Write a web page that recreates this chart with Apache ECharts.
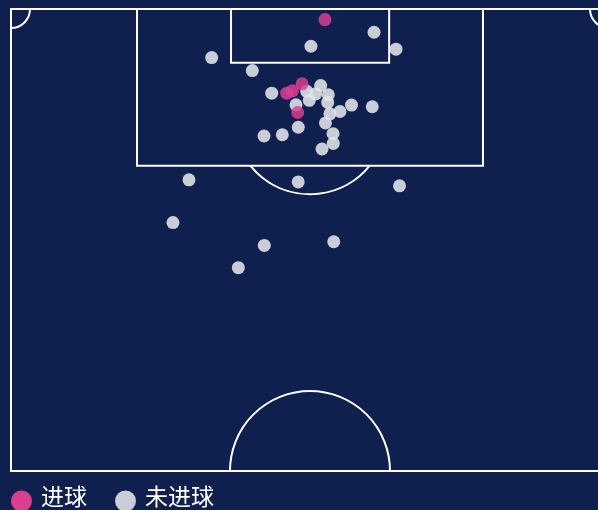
<!DOCTYPE html>
<html style="height: 100%">
<head>
    <meta charset="utf-8">
    <script src="https://cdn.jsdelivr.net/npm/echarts@6/dist/echarts.min.js"></script>
</head>
<body style="height: 100%; margin: 0; background: #0f204e">
    <div id="main" style="width:598px;height:510px;"></div>
    <script type="text/javascript">
        // 球场半场坐标（米）：x 0-68 横向，y 0-52.5 距离球门线
        var goalShots = [
            [35.7, 1.2], [33.1, 8.5], [32.0, 9.3], [31.35, 9.56], [32.6, 11.76]
        ];
        var missShots = [
            [41.28, 2.64], [34.11, 4.23], [43.78, 4.57], [22.82, 5.52], [27.44, 7.0],
            [29.65, 9.56], [33.63, 9.35], [34.65, 9.64], [33.92, 10.38], [35.22, 8.7],
            [36.08, 9.75], [36.01, 10.62], [32.41, 10.89], [37.41, 11.65], [38.72, 10.92],
            [41.08, 11.11], [36.27, 11.91], [35.76, 12.95], [32.67, 13.44], [30.85, 14.29],
            [28.77, 14.43], [36.62, 14.17], [36.65, 15.27], [35.37, 15.91], [20.24, 19.41],
            [32.66, 19.65], [44.18, 20.09], [18.42, 24.27], [28.8, 26.87], [36.7, 26.45],
            [25.85, 29.4]
        ];
        var legendNames = ['进球', '未进球'];

        // 球场尺寸
        var pitchW = 68, pitchL = 52.5;
        var boxX = [14.33, 53.67], boxDepth = 17.8;
        var sixX = [25.02, 43.0], sixDepth = 6.12;
        var spot = [34, 12.36], arcR = 8.7;
        var centerR = 9.1, cornerR = 2.16;

        var lineStyle = { stroke: '#ffffff', lineWidth: 2, fill: null };

        function pitchItem(params, api) {
            var c = function (x, y) { return api.coord([x, y]); };
            var rx = function (r) { return api.size([r, 0])[0]; };
            var els = [];
            function rect(x0, y0, x1, y1) {
                var a = c(x0, y0), b = c(x1, y1);
                els.push({ type: 'rect', shape: { x: a[0], y: a[1], width: b[0] - a[0], height: b[1] - a[1] }, style: lineStyle });
            }
            rect(0, 0, pitchW, pitchL);
            rect(boxX[0], 0, boxX[1], boxDepth);
            rect(sixX[0], 0, sixX[1], sixDepth);
            // 罚球弧
            var sp = c(spot[0], spot[1]);
            var r = rx(arcR);
            var d = c(0, boxDepth)[1] - sp[1];
            var t = Math.asin(Math.min(1, d / r));
            els.push({ type: 'arc', shape: { cx: sp[0], cy: sp[1], r: r, startAngle: t, endAngle: Math.PI - t, clockwise: true }, style: lineStyle });
            // 中圈
            var cc = c(pitchW / 2, pitchL);
            els.push({ type: 'arc', shape: { cx: cc[0], cy: cc[1], r: rx(centerR), startAngle: Math.PI, endAngle: Math.PI * 2, clockwise: true }, style: lineStyle });
            // 角球弧
            var c0 = c(0, 0), c1 = c(pitchW, 0);
            els.push({ type: 'arc', shape: { cx: c0[0], cy: c0[1], r: rx(cornerR), startAngle: 0, endAngle: Math.PI / 2, clockwise: true }, style: lineStyle });
            els.push({ type: 'arc', shape: { cx: c1[0], cy: c1[1], r: rx(cornerR), startAngle: Math.PI / 2, endAngle: Math.PI, clockwise: true }, style: lineStyle });
            return { type: 'group', children: els };
        }

        var myChart = echarts.init(document.getElementById('main'));
        var option = {
            backgroundColor: '#0f204e',
            animation: false,
            grid: { left: 11, top: 9, right: -11, height: 462, outerBoundsMode: 'none', containLabel: false },
            xAxis: { type: 'value', min: 0, max: pitchW, show: false },
            yAxis: { type: 'value', min: 0, max: pitchL, inverse: true, show: false },
            legend: {
                data: [
                    { name: legendNames[0], itemStyle: { color: '#d9408f', opacity: 1 } },
                    { name: legendNames[1] }
                ],
                left: 11,
                top: 485,
                padding: 0,
                itemWidth: 21,
                itemHeight: 21,
                itemGap: 28,
                formatter: '{t|{name}}',
                textStyle: {
                    color: '#ffffff', fontSize: 23, fontFamily: 'Noto Sans CJK SC',
                    rich: { t: { color: '#ffffff', fontSize: 23, fontFamily: 'Noto Sans CJK SC', padding: [0, 0, 9, 4] } }
                }
            },
            series: [
                {
                    type: 'custom',
                    renderItem: pitchItem,
                    data: [[0, 0]],
                    silent: true,
                    clip: false,
                    z: 1
                },
                {
                    name: legendNames[1],
                    type: 'scatter',
                    symbol: 'circle',
                    symbolSize: 13,
                    data: missShots,
                    itemStyle: { color: '#e2e5ec', opacity: 0.88 },
                    z: 3
                },
                {
                    name: legendNames[0],
                    type: 'scatter',
                    symbol: 'circle',
                    symbolSize: 13,
                    data: goalShots,
                    itemStyle: { color: '#d83f93', opacity: 0.85 },
                    z: 4
                }
            ]
        };
        myChart.setOption(option);
    </script>
</body>
</html>
